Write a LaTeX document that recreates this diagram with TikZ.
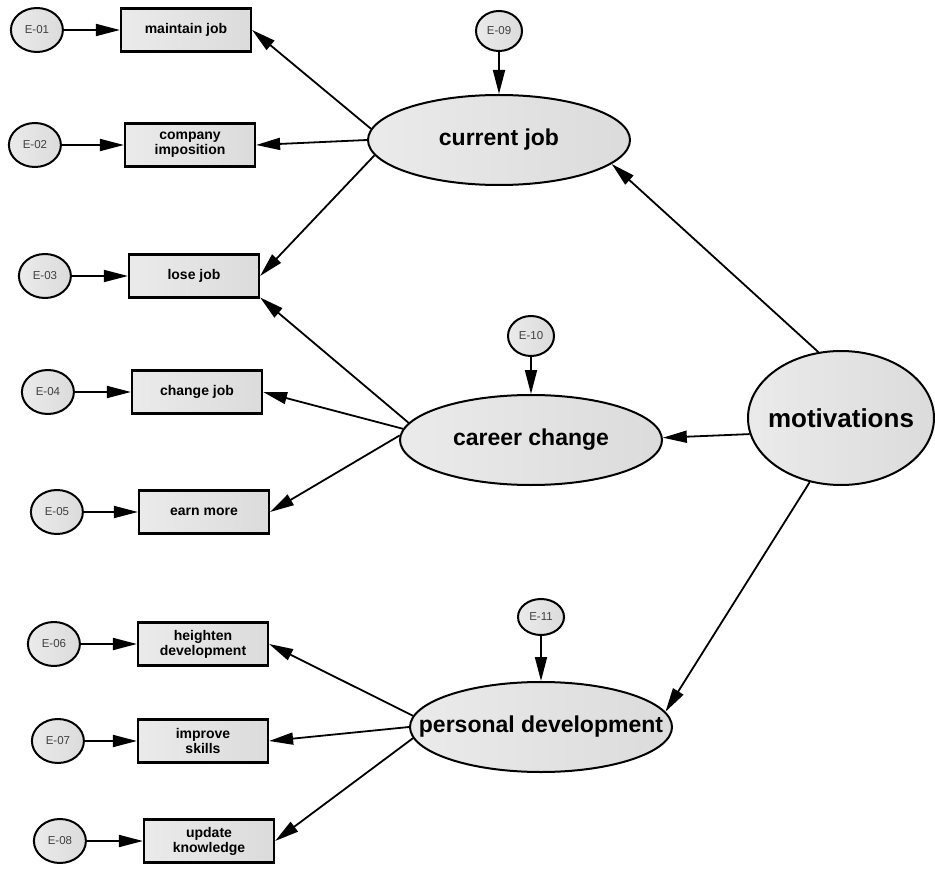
\documentclass[tikz,border=0pt]{standalone}
\usepackage{fontspec}
\setmainfont{Liberation Sans}
\usetikzlibrary{positioning, arrows.meta, shapes.geometric}

\begin{document}
\begin{tikzpicture}[x=1pt, y=-1pt, ->, >={Triangle[length=24pt,width=12pt]}, line width=1.8pt, node distance=56pt,
    obs/.style={draw, rectangle, line width=2.2pt, left color=black!8, right color=black!14, minimum width=130pt, minimum height=43pt, inner sep=0pt, align=center, font=\bfseries\fontsize{14}{15}\selectfont},
    lat/.style={draw, ellipse, line width=2pt, left color=black!8, right color=black!14, minimum width=262pt, minimum height=90pt, inner sep=0pt},
    latfont/.style={font=\bfseries\fontsize{23}{27}\selectfont},
    err/.style={draw, ellipse, line width=2pt, left color=black!8, right color=black!14, minimum width=52pt, minimum height=44pt, inner sep=0pt, text=black!75, font=\fontsize{11.5}{13}\selectfont}]
      \useasboundingbox (0,0) rectangle (935,869);
      % latent variables
      \node[lat, label={[latfont]center:current job}] (cj) at (499,140) {};
      \node[lat, label={[latfont]center:career change}] (cc) at (531,440) {};
      \node[lat, label={[latfont]center:personal development}] (pd) at (541,727) {};
      \node[lat, minimum width=186pt, minimum height=134pt, label={[font=\bfseries\fontsize{26}{30}\selectfont]center:motivations}] (mot) at (841,418) {};
      % indicators
      \node[obs] (mj) at (186,30) {maintain job};
      \node[obs] (ci) at (190,145) {company\\imposition};
      \node[obs] (lj) at (194,276) {lose job};
      \node[obs] (cg) at (197,392) {change job};
      \node[obs] (em) at (204,512) {earn more};
      \node[obs] (hd) at (203,644) {heighten\\development};
      \node[obs] (is) at (203,741) {improve\\skills};
      \node[obs] (uk) at (209,841) {update\\knowledge};
      % errors
      \node[err, left=of mj] (e1) {E-01};
      \node[err, left=62pt of ci] (e2) {E-02};
      \node[err, left=of lj] (e3) {E-03};
      \node[err, left=of cg] (e4) {E-04};
      \node[err, left=54pt of em] (e5) {E-05};
      \node[err, left=of hd] (e6) {E-06};
      \node[err, left=52pt of is] (e7) {E-07};
      \node[err, left=of uk] (e8) {E-08};
      \node[err, minimum width=46pt, minimum height=40pt, above=42pt of cj] (e9) {E-09};
      \node[err, minimum width=46pt, minimum height=40pt, above=37pt of cc] (e10) {E-10};
      \node[err, minimum width=46pt, minimum height=36pt, above=45pt of pd] (e11) {E-11};
      \path (e1) edge (mj)
      (e2) edge (ci)
      (e3) edge (lj)
      (e4) edge (cg)
      (e5) edge (em)
      (e6) edge (hd)
      (e7) edge (is)
      (e8) edge (uk)
      (e9) edge (cj)
      (e10) edge (cc)
      (e11) edge (pd);
      \path (cj.175) edge (mj.east)
      (cj.180) edge (ci.east)
      (cj.187) edge (lj.east)
      (cc.172) edge (lj.-18)
      (cc.175) edge (cg.east)
      (cc.178) edge (em.east)
      (pd.175) edge (hd.east)
      (pd.180) edge (is.east)
      (pd.185) edge (uk.east)
      (mot.109) edge (cj.-12)
      (mot.190) edge (cc.1)
      (mot.244) edge (pd.7);
    \end{tikzpicture}
\end{document}
